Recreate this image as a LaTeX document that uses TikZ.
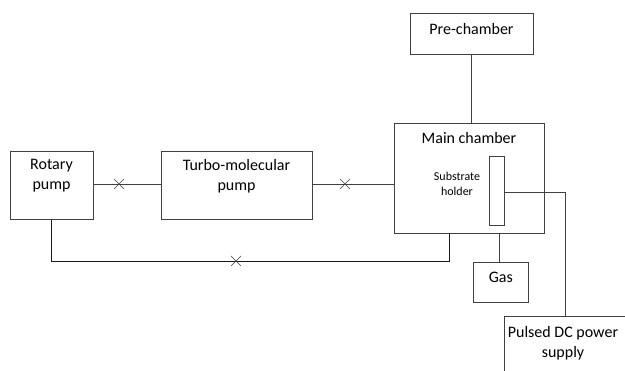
\documentclass[tikz,border=0pt]{standalone}
\usepackage{fontspec}
\setmainfont{Carlito}
\usetikzlibrary{calc}
\begin{document}
\begin{tikzpicture}[x=1pt,y=-1pt,
  box/.style={draw=black!75,line width=0.8pt,rectangle,inner sep=0pt,anchor=north west},
  lbl/.style={font=\fontsize{16}{20}\selectfont,align=center,inner sep=0pt,anchor=north},
  small/.style={font=\fontsize{12}{15}\selectfont,align=center,inner sep=0pt},
  conn/.style={draw=black!75,line width=0.8pt},
  valve/.style={draw=black!75,line width=0.7pt}]
\useasboundingbox (0,0) rectangle (625,371);
\clip (0,0) rectangle (625,371);
% boxes
\node[box,minimum width=83pt,minimum height=68pt] (rot) at (10,151) {};
\node[box,minimum width=151pt,minimum height=68pt] (turbo) at (161,151) {};
\node[box,minimum width=123pt,minimum height=41pt] (pre) at (410,13) {};
\node[box,minimum width=150pt,minimum height=110pt] (main) at (394,123) {};
\node[box,minimum width=14.5pt,minimum height=69pt] (holder) at (489,156) {};
\node[box,minimum width=55pt,minimum height=40.5pt] (gas) at (473.3,262) {};
\node[box,minimum width=160pt,minimum height=80pt] (psu) at (504,316) {};
% texts
\node[lbl] (trot) at (51.5,159.5) {Rotary\\pump};
\node[lbl] (tturbo) at (236.5,159.5) {Turbo-molecular\\pump};
\node[lbl] (tpre) at (471.5,23.5) {Pre-chamber};
\node[lbl] (tmain) at (469,132.5) {Main chamber};
\node[small] (thold) at (457,184) {Substrate\\holder};
\node[lbl] (tgas) at (500.8,271.5) {Gas};
\node[lbl] (tpsu) at (563,326) {Pulsed DC power\\supply};
% connectors
\coordinate (v1) at (119,184);
\coordinate (v2) at (345,184);
\coordinate (v3) at (236,261);
\coordinate (c1) at (471.7,0);
\coordinate (c2) at (499,0);
\draw[conn] (rot.east |- v1) -- (turbo.west |- v1);
\draw[conn] (turbo.east |- v2) -- (main.west |- v2);
\draw[conn] (pre.south -| c1) -- (main.north -| c1);
\coordinate (b1) at (51.7,261);
\coordinate (b2) at (449,261);
\draw[conn,draw=black!90] (rot.south -| b1) -- (b1) -- (b2) -- (main.south -| b2);
\draw[conn] (main.south -| c2) -- (gas.north -| c2);
\coordinate (p1) at (565.7,192);
\draw[conn] (holder.east |- p1) -- (p1) -- (psu.north -| p1);
% valves
\foreach \v in {v1,v2,v3}{
  \draw[valve] ($(\v)+(-5,-5)$) -- ($(\v)+(5,5)$);
  \draw[valve] ($(\v)+(-5,5)$) -- ($(\v)+(5,-5)$);
}
\end{tikzpicture}
\end{document}
